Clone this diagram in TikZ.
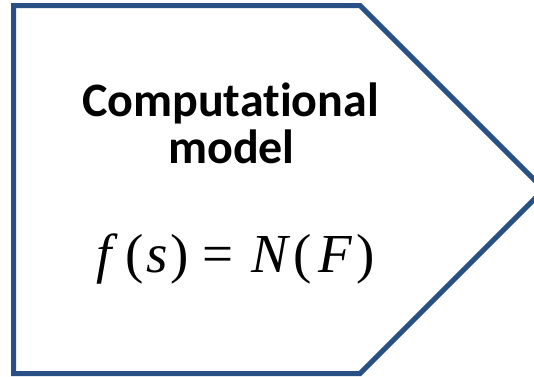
\documentclass[tikz,border=0pt]{standalone}
\usepackage{fontspec}
\setmainfont{Liberation Serif}
\newfontfamily\labelfont[Ligatures=NoCommon]{Carlito}
\definecolor{edgeblue}{RGB}{40,80,135}
\begin{document}
\begin{tikzpicture}[x=1pt,y=-1pt,
  shapeline/.style={draw=edgeblue,line width=5pt,line join=miter,fill=white},
  titletext/.style={font=\labelfont\bfseries\fontsize{48}{56}\selectfont,anchor=base,inner sep=0pt},
  mathtext/.style={font=\fontsize{55}{62}\selectfont,anchor=base,inner sep=0pt},
  mathit/.style={mathtext,font=\fontsize{55}{62}\selectfont\itshape}]
\useasboundingbox (0,0) rectangle (534,376);
\clip (0,0) rectangle (534,376);
\draw[shapeline] (13.5,5.5) -- (360,5.5) -- (544,189.5) -- (360,373.5) -- (13.5,373.5) -- cycle;
\node[titletext] (t1) at (230.5,116) {Computational};
\node[titletext] (t2) at (231.5,163) {model};
\node[mathit]   (f1) at (104,272) {f};
\node[mathtext] (f2) at (135,272) {(};
\node[mathit]   (f3) at (157,272) {s};
\node[mathtext] (f4) at (180,272) {)};
\node[mathtext] (f5) at (218,272) {=};
\node[mathit]   (f6) at (270,272) {N};
\node[mathtext] (f7) at (303,272) {(};
\node[mathit]   (f8) at (335,272) {F};
\node[mathtext] (f9) at (366,272) {)};
\end{tikzpicture}
\end{document}
